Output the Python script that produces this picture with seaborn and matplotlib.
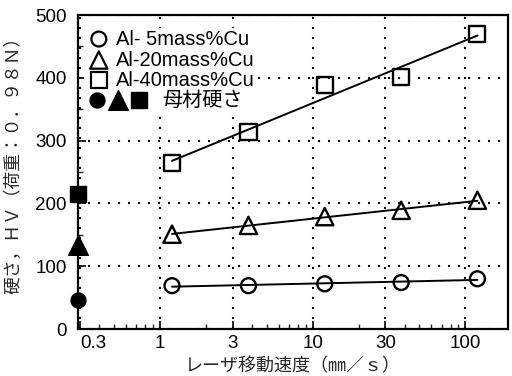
import numpy as np
import pandas as pd
import matplotlib
matplotlib.use("Agg")
import matplotlib.pyplot as plt
from matplotlib.patches import Rectangle
from matplotlib.ticker import FixedLocator, LogLocator, NullFormatter, MultipleLocator
import seaborn as sns

# Laser travel speed (mm/s) and Vickers hardness of the melted layer
speed = [1.2, 3.8, 12, 38, 120]
hv_5cu = [69, 69, 72, 74, 80]
hv_20cu = [151, 165, 179, 189, 205]
hv_40cu = [264, 314, 389, 401, 470]
# hardness of the base material (5, 20, 40 mass%Cu)
base_hv = [46, 133, 215]

series_labels = ["Al- 5mass%Cu", "Al-20mass%Cu", "Al-40mass%Cu"]
base_label = "母材硬さ"
x_ticks = [0.3, 1, 3, 10, 30, 100]
x_tick_labels = ["0.3", "1", "3", "10", "30", "100"]
y_ticks = [0, 100, 200, 300, 400, 500]
x_label = "レーザ移動速度（㎜／ｓ）"
y_label = "硬さ，ＨＶ（荷重：０．９８Ｎ）"

sns.set_theme(style="ticks")
plt.rcParams["font.family"] = ["Liberation Sans", "Noto Sans CJK JP", "DejaVu Sans"]
jp_font = ["Noto Sans CJK JP", "DejaVu Sans"]

fig = plt.figure(figsize=(5.12, 3.76), dpi=100)
ax = fig.add_axes([0.152, 0.125, 0.840, 0.835])
ax.set_xscale("log")

open_markers = ["o", "^", "s"]
open_sizes = [115, 155, 135]
for vals, m, sz in zip([hv_5cu, hv_20cu, hv_40cu], open_markers, open_sizes):
    df = pd.DataFrame({"speed": speed, "hv": vals})
    sns.regplot(data=df, x="speed", y="hv", logx=True, ci=None, scatter=False,
                truncate=True, ax=ax,
                line_kws=dict(color="black", lw=1.4, zorder=2))
    sns.scatterplot(data=df, x="speed", y="hv", marker=m, s=sz,
                    facecolor="none", edgecolor="black", linewidth=1.7,
                    ax=ax, zorder=3, legend=False)

# base-material hardness sits on the left axis
yax = ax.get_yaxis_transform()
for v, m, sz in zip(base_hv, ["o", "^", "s"], [115, 200, 125]):
    ax.scatter([0], [v], marker=m, s=sz, color="black", transform=yax,
               clip_on=False, zorder=5)

ax.set_xlim(0.29, 190)
ax.set_ylim(0, 500)

ax.xaxis.set_major_locator(FixedLocator(x_ticks))
ax.set_xticklabels(x_tick_labels)
ax.xaxis.set_minor_locator(LogLocator(base=10, subs=(2, 4, 5, 6, 7, 8, 9)))
ax.xaxis.set_minor_formatter(NullFormatter())
ax.set_yticks(y_ticks)
ax.yaxis.set_minor_locator(MultipleLocator(50))

ax.tick_params(axis="both", which="major", direction="in", length=6, width=1.2,
               labelsize=13.5, colors="black")
ax.tick_params(axis="x", which="major", pad=4)
ax.tick_params(axis="y", which="major", pad=8)
ax.tick_params(axis="both", which="minor", direction="in", length=3.5, width=1.0)
ax.get_xticklabels()[0].set_horizontalalignment("left")

ax.grid(True, which="major", color="black", linestyle=(0, (1, 3.8)), lw=1.5)
for sp in ax.spines.values():
    sp.set_visible(True)
    sp.set_color("black")
    sp.set_linewidth(1.6)

ax.set_xlabel(x_label, family=jp_font, fontsize=13, labelpad=4)
ax.set_ylabel(y_label, family=jp_font, fontsize=12.8)
ax.yaxis.set_label_coords(-0.128, 0.535)

# legend block drawn in axes fraction coordinates
ax_w, ax_h = 430.0, 314.0
def fx(px):
    return (px - 78) / ax_w
def fy(py):
    return (329 - py) / ax_h

ax.add_patch(Rectangle((fx(84), fy(112)), fx(250) - fx(84), fy(28) - fy(112),
                       transform=ax.transAxes, facecolor="white",
                       edgecolor="none", zorder=1))

rows_y = [39, 60, 80]
for lab, m, sz, ry in zip(series_labels, open_markers, [115, 155, 135], rows_y):
    ax.scatter([fx(99)], [fy(ry)], marker=m, s=sz, facecolor="none",
               edgecolor="black", linewidth=1.6, transform=ax.transAxes,
               clip_on=False, zorder=6)
    ax.text(fx(116), fy(ry), lab, transform=ax.transAxes, fontsize=14.5,
            va="center", ha="left", color="black", zorder=6)
for px, m, sz in zip([97, 118, 139], ["o", "^", "s"], [115, 200, 125]):
    ax.scatter([fx(px)], [fy(100)], marker=m, s=sz, color="black",
               transform=ax.transAxes, clip_on=False, zorder=6)
ax.text(fx(162), fy(100), base_label, transform=ax.transAxes, fontsize=14.5,
        va="center", ha="left", family=jp_font, color="black", zorder=6)

fig.savefig("out.png", dpi=100)
